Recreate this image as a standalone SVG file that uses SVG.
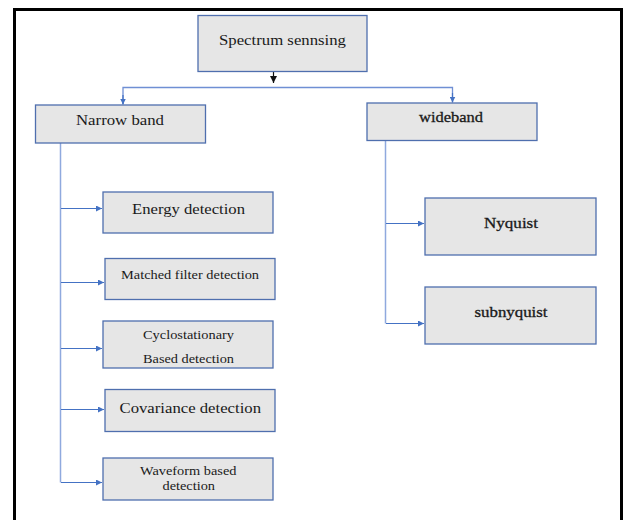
<svg xmlns="http://www.w3.org/2000/svg" width="625" height="520" viewBox="0 0 625 520">
  <defs>
    <marker id="arrBlue" viewBox="0 0 10 10" refX="10" refY="5" markerWidth="6" markerHeight="6" markerUnits="userSpaceOnUse" orient="auto">
      <path d="M0,0 L10,5 L0,10 Z" fill="#4472c4"/>
    </marker>
    <marker id="arrBlack" viewBox="0 0 10 10" refX="10" refY="5" markerWidth="7" markerHeight="7" markerUnits="userSpaceOnUse" orient="auto">
      <path d="M0,0 L10,5 L0,10 Z" fill="#111"/>
    </marker>
  </defs>
  <style>
    .box { fill: #e6e6e6; stroke: #4f6fae; stroke-width: 1.3; }
    text { font-family: "Liberation Serif", "DejaVu Serif", serif; fill: #1a1a1a; }
    .heavy { stroke: #1a1a1a; stroke-width: 0.3; }
    .line { fill: none; stroke: #8fa9de; stroke-width: 1.5; }
    .arrow { fill: none; stroke: #4472c4; stroke-width: 1.2; marker-end: url(#arrBlue); }
  </style>

  <rect width="625" height="520" fill="#ffffff"/>
  <!-- outer frame -->
  <rect x="14.5" y="9.5" width="607" height="530" fill="none" stroke="#000" stroke-width="3"/>

  <!-- connectors -->
  <g id="connectors">
    <line x1="273.5" y1="72" x2="273.5" y2="83" stroke="#111" stroke-width="1.2" marker-end="url(#arrBlack)"/>
    <path class="line" d="M123,104 L123,87.5 L452.5,87.5 L452.5,102" style="stroke:#6f8fd4;stroke-width:1.3"/>
    <line class="arrow" x1="123" y1="95" x2="123" y2="104.5"/>
    <line class="arrow" x1="452.5" y1="93" x2="452.5" y2="102.5"/>
    <!-- narrow band branches -->
    <path class="line" d="M60.5,143 L60.5,482.5"/>
    <line class="arrow" x1="61" y1="208.5" x2="102" y2="208.5"/>
    <line class="arrow" x1="61" y1="282.5" x2="104" y2="282.5"/>
    <line class="arrow" x1="61" y1="348.5" x2="102" y2="348.5"/>
    <line class="arrow" x1="61" y1="409.5" x2="104" y2="409.5"/>
    <line class="arrow" x1="61" y1="482.5" x2="102" y2="482.5"/>
    <!-- wideband branches -->
    <path class="line" d="M385.5,141 L385.5,323.5"/>
    <line class="arrow" x1="386" y1="223.5" x2="424" y2="223.5"/>
    <line class="arrow" x1="386" y1="323.5" x2="424" y2="323.5"/>
  </g>

  <g id="spectrum">
    <rect class="box" x="198" y="15.5" width="169" height="56"/>
    <text font-family="Liberation Serif" x="219" y="44.5" font-size="15" textLength="127" lengthAdjust="spacingAndGlyphs">Spectrum sennsing</text>
  </g>

  <g id="narrowband">
    <rect class="box" x="35.5" y="105" width="170" height="38"/>
    <text font-family="Liberation Serif" x="76" y="124.5" font-size="15" textLength="88" lengthAdjust="spacingAndGlyphs">Narrow band</text>
  </g>

  <g id="wideband">
    <rect class="box" x="367" y="103" width="170" height="37.5"/>
    <text font-family="Liberation Serif" class="heavy" x="419" y="121.5" font-size="15" textLength="64" lengthAdjust="spacingAndGlyphs">wideband</text>
  </g>

  <g id="energy">
    <rect class="box" x="103" y="192" width="170" height="41"/>
    <text font-family="Liberation Serif" x="132" y="214" font-size="15" textLength="113" lengthAdjust="spacingAndGlyphs">Energy detection</text>
  </g>

  <g id="matched">
    <rect class="box" x="105" y="258.5" width="170" height="41"/>
    <text font-family="Liberation Serif" x="121" y="279" font-size="13" textLength="138" lengthAdjust="spacingAndGlyphs">Matched filter detection</text>
  </g>

  <g id="cyclo">
    <rect class="box" x="103" y="321" width="170" height="47"/>
    <text font-family="Liberation Serif" x="143" y="338.5" font-size="13" textLength="91" lengthAdjust="spacingAndGlyphs">Cyclostationary</text>
    <text font-family="Liberation Serif" x="143" y="363" font-size="13" textLength="91" lengthAdjust="spacingAndGlyphs">Based detection</text>
  </g>

  <g id="covariance">
    <rect class="box" x="105" y="389.5" width="170" height="42"/>
    <text font-family="Liberation Serif" x="119.5" y="412.5" font-size="15" textLength="141.5" lengthAdjust="spacingAndGlyphs">Covariance detection</text>
  </g>

  <g id="waveform">
    <rect class="box" x="103" y="458" width="170" height="42"/>
    <text font-family="Liberation Serif" x="140" y="475" font-size="13" textLength="96.5" lengthAdjust="spacingAndGlyphs">Waveform based</text>
    <text font-family="Liberation Serif" x="162.5" y="490" font-size="13" textLength="52.5" lengthAdjust="spacingAndGlyphs">detection</text>
  </g>

  <g id="nyquist">
    <rect class="box" x="425" y="198" width="171" height="57"/>
    <text font-family="Liberation Serif" class="heavy" x="484" y="227.5" font-size="15" textLength="54" lengthAdjust="spacingAndGlyphs">Nyquist</text>
  </g>

  <g id="subnyquist">
    <rect class="box" x="425" y="287" width="171" height="57"/>
    <text font-family="Liberation Serif" class="heavy" x="474.5" y="316.5" font-size="14" textLength="73" lengthAdjust="spacingAndGlyphs">subnyquist</text>
  </g>
</svg>
